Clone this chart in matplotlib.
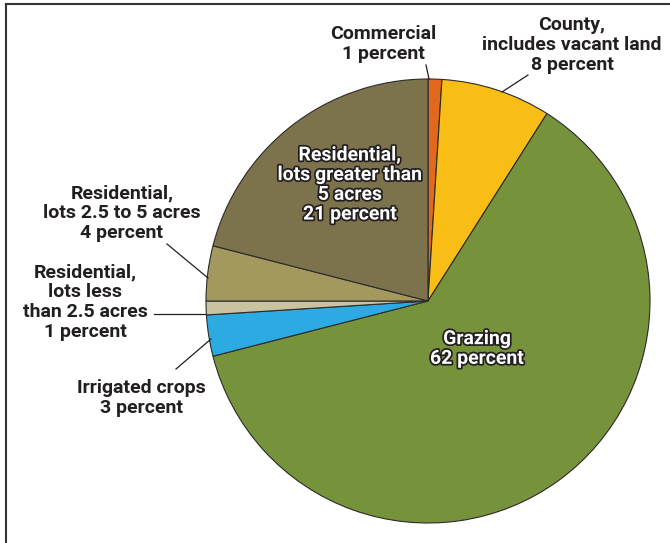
import matplotlib
matplotlib.use("Agg")
import matplotlib.pyplot as plt
import matplotlib.patheffects as pe
from matplotlib.lines import Line2D

# land-use shares, clockwise from 12 o'clock
labels = ["Commercial", "County", "Grazing", "Irrigated crops",
          "Residential < 2.5 acres", "Residential 2.5-5 acres", "Residential > 5 acres"]
percents = [1, 8, 62, 3, 1, 4, 21]
colors = ["#E2681E", "#F9BE15", "#76923B", "#2BABE2", "#C9C39F", "#A3995F", "#7C734D"]

W, H = 670, 543
plt.rcParams["font.family"] = ["Roboto", "DejaVu Sans"]

fig = plt.figure(figsize=(W / 100, H / 100), dpi=100)
ax = fig.add_axes([0, 0, 1, 1])

cx, cy, r = 428, H - 301, 222
ax.pie(percents, colors=colors, startangle=90, counterclock=False,
       center=(cx, cy), radius=r, frame=True,
       wedgeprops=dict(edgecolor="#2b2b2b", linewidth=0.8))
ax.set_xlim(0, W)
ax.set_ylim(0, H)
ax.set_aspect("equal")
ax.axis("off")

txt = dict(fontsize=14, fontweight="bold", color="#231F20", ha="center",
           va="center", linespacing=1.12)
inner = dict(txt, color="white",
             path_effects=[pe.withStroke(linewidth=2.5, foreground="#231F20")])

def py(y):
    return H - y

ax.text(383, py(44), f"Commercial\n{percents[0]} percent", **txt)
ax.text(572, py(45), f"County,\nincludes vacant land\n{percents[1]} percent", **txt)
ax.text(477, py(349), f"Grazing\n{percents[2]} percent", **inner)
ax.text(141, py(398), f"Irrigated crops\n{percents[3]} percent", **txt)
ax.text(85, py(302), f"Residential,\nlots less\nthan 2.5 acres\n{percents[4]} percent", **txt)
ax.text(122, py(213), f"Residential,\nlots 2.5 to 5 acres\n{percents[5]} percent", **txt)
ax.text(350, py(185), f"Residential,\nlots greater than\n5 acres\n{percents[6]} percent", **inner)

# leader lines
leaders = [((426, 65), (429, 79)),
           ((528, 75), (502, 92)),
           ((176, 369), (211, 339)),
           ((154, 314), (205, 314)),
           ((167, 244), (208, 278))]
for (x0, y0), (x1, y1) in leaders:
    ax.plot([x0, x1], [py(y0), py(y1)], color="#231F20", lw=0.9)

# frame lines along top and left
fig.add_artist(Line2D([6 / W, 1], [1 - 4 / H, 1 - 4 / H], color="#333333", lw=1.5))
fig.add_artist(Line2D([6 / W, 6 / W], [0, 1 - 4 / H], color="#333333", lw=1.5))

fig.savefig("out.png", dpi=100, facecolor="white")
